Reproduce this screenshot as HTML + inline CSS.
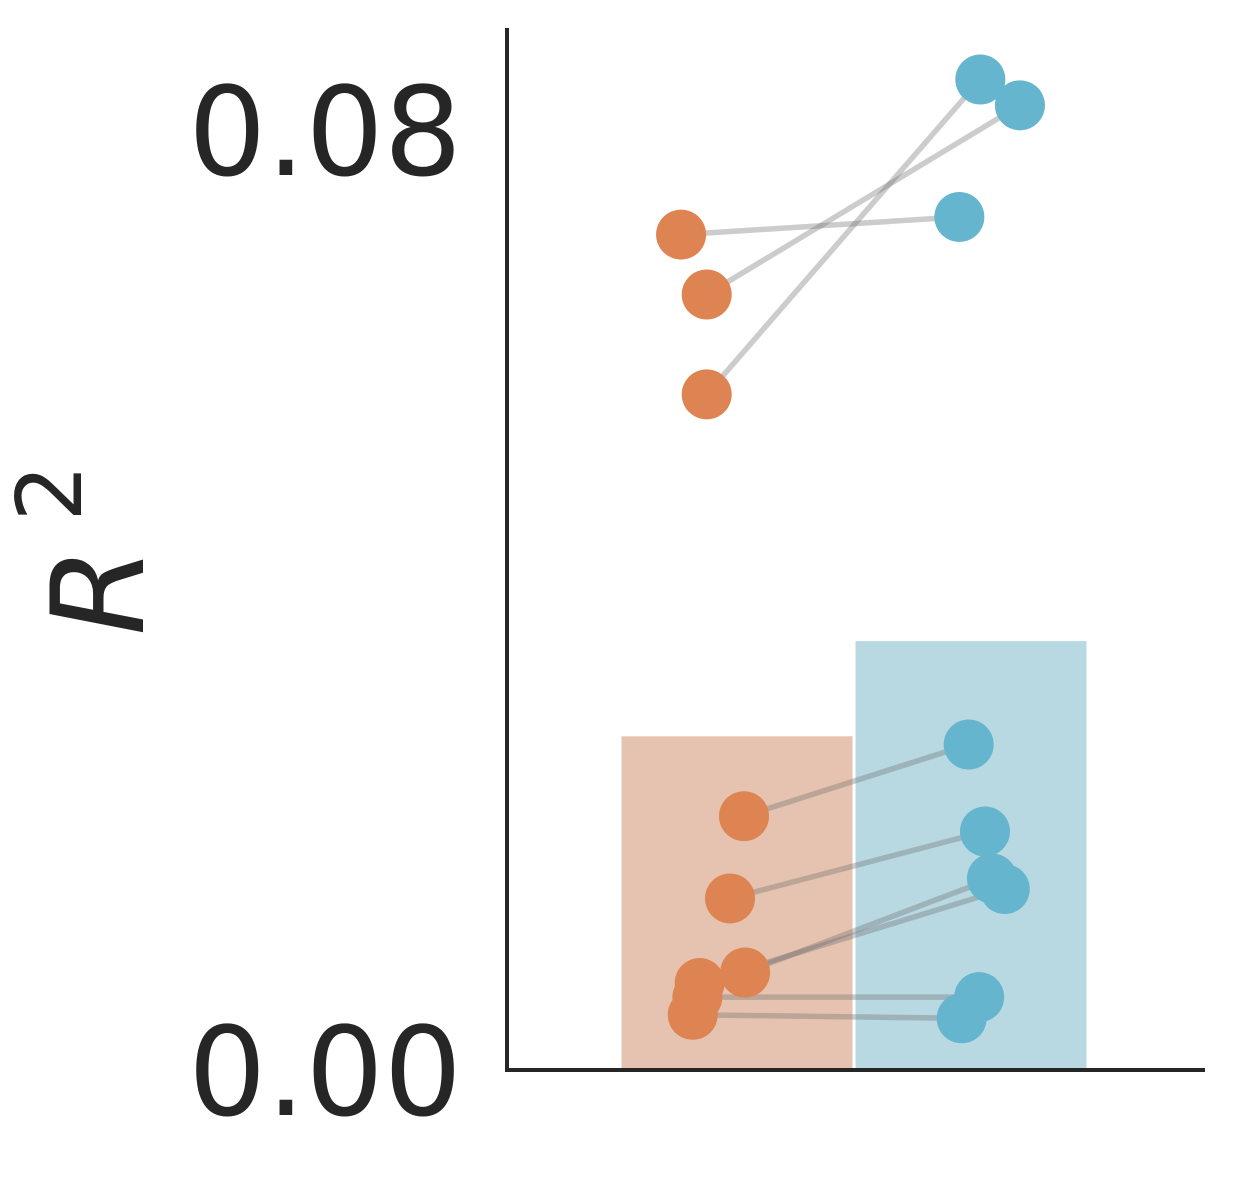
<!DOCTYPE html>
<html><head><meta charset="utf-8"><style>
body{margin:0;background:#fff}
svg text{font-family:"DejaVu Sans","Liberation Sans",sans-serif;fill:#262626}
</style></head><body>
<svg id="chart" width="1233" height="1173" viewBox="0 0 1233 1173" xmlns="http://www.w3.org/2000/svg"></svg>
<script>
const categories = ["A","B"];
const barValues = [0.0284, 0.0365];
const valuesA = [0.0711, 0.0660, 0.0575, 0.0216, 0.0146, 0.0083, 0.0074, 0.0062, 0.0047];
const valuesB = [0.0726, 0.0821, 0.0843, 0.0277, 0.0203, 0.0163, 0.0154, 0.0062, 0.0044];
const jitterA = [-0.24, -0.13, -0.13, 0.03, -0.03, 0.035, -0.16, -0.17, -0.19];
const jitterB = [-0.05, 0.21, 0.04, -0.01, 0.06, 0.09, 0.145, 0.035, -0.04];
const yTicks = [0, 0.08];
const yTickLabels = ["0.00", "0.08"];

const NS = "http://www.w3.org/2000/svg";
const svg = document.getElementById("chart");
const y0 = 1070, pxPerUnit = 11750;
function yScale(v){ return y0 - v * pxPerUnit; }
const xCenters = [737, 971], catWidth = 233;
function xScale(i, j){ return xCenters[i] + j * catWidth; }
function mk(tag, attrs){ const e = document.createElementNS(NS, tag); for (const k in attrs) e.setAttribute(k, attrs[k]); svg.appendChild(e); return e; }

const barColors = ["#e5c3b0", "#b8d8e2"];
barValues.forEach((v, i) => {
  const r = mk("rect", {x: xScale(i, -0.5) + 1, y: yScale(v), width: catWidth - 2, height: y0 - yScale(v), fill: barColors[i]});
  
  
});
valuesA.forEach((v, k) => {
  const l = mk("line", {x1: xScale(0, jitterA[k]), y1: yScale(v), x2: xScale(1, jitterB[k]), y2: yScale(valuesB[k]), stroke: "rgba(110,110,110,0.35)", "stroke-width": 5.5});
  
  
});
valuesA.forEach((v, k) => {
  const c = mk("circle", {cx: xScale(0, jitterA[k]), cy: yScale(v), r: 25, fill: "#dd8452"});
  
  
});
valuesB.forEach((v, k) => {
  const c = mk("circle", {cx: xScale(1, jitterB[k]), cy: yScale(v), r: 25, fill: "#64b5cd"});
  
  
});
const ya = mk("line", {x1: 507, y1: 28, x2: 507, y2: 1072, stroke: "#262626", "stroke-width": 4});


const xa = mk("line", {x1: 505, y1: 1070, x2: 1205, y2: 1070, stroke: "#262626", "stroke-width": 4});


yTicks.forEach((t, i) => {
  const tx = mk("text", {x: 462, y: yScale(t) + 45, "text-anchor": "end", "font-size": 123});
  tx.textContent = yTickLabels[i];
  
  
});
const yt = mk("text", {x: 0, y: 0, "text-anchor": "middle", "font-size": 128, "font-style": "italic", transform: "translate(143,550) rotate(-90)"});
yt.innerHTML = 'R<tspan dx="25" dy="-62" font-size="90" font-style="normal">2</tspan>';


</script>
</body></html>
